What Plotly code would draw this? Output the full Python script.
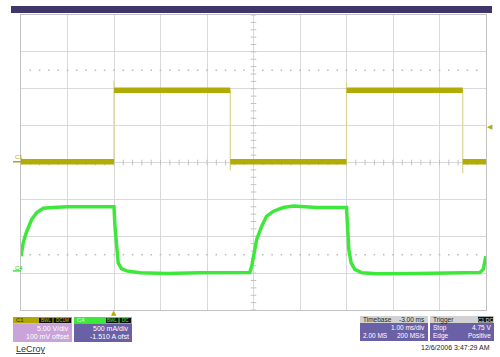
import plotly.graph_objects as go
import numpy as np

# Channel 1 (voltage, V) – time in ms from left edge of screen
c1_time = [0, 2.0, 2.0, 2.0, 4.5, 4.5, 4.5, 7.0, 7.0, 7.0, 9.5, 9.5, 9.5, 10.0]
c1_volts = [0, 0, 11.0, 9.7, 9.7, -1.2, 0, 0, 10.8, 9.7, 9.7, -1.6, 0, 0]

# Channel 4 (current, A)
c4_time = [0, 0.05, 0.12, 0.23, 0.34, 0.48, 0.69, 0.99, 1.5, 2.0,
           2.02, 2.06, 2.09, 2.16, 2.27, 2.56, 3.13, 3.85, 4.56, 4.92,
           4.96, 5.0, 5.07, 5.18, 5.28, 5.43, 5.64, 5.86, 6.36, 7.0,
           7.03, 7.05, 7.10, 7.18, 7.33, 7.65, 8.51, 9.23, 9.87, 9.94, 10.0]
c4_amps = [0.24, 0.43, 0.57, 0.74, 0.83, 0.89, 0.90, 0.91, 0.91, 0.91,
           0.65, 0.29, 0.15, 0.07, 0.04, 0.015, 0.005, 0.015, 0.02, 0.02,
           0.10, 0.24, 0.47, 0.65, 0.78, 0.85, 0.90, 0.92, 0.90, 0.90,
           0.65, 0.33, 0.15, 0.06, 0.015, 0.0, 0.005, 0.015, 0.02, 0.06, 0.24]

# scope settings
c1_vdiv, c1_offset = 5.0, 0.100
c4_adiv, c4_offset = 0.500, -1.510
time_div, n_xdiv, n_ydiv = 1.0, 10, 8
trigger_time, trigger_level = 2.0, 4.75

c1_label = ["5.00 V/div", "100 mV offset"]
c4_label = ["500 mA/div", "-1.510 A ofst"]
tb_label = ["Timebase", "-3.00 ms", "1.00 ms/div", "2.00 MS", "200 MS/s"]
trig_label = ["Trigger", "C1 DC", "Stop", "4.75 V", "Edge", "Positive"]
date_label = "12/6/2006 3:47:29 AM"

# ---------------- colours ----------------
OLIVE = "#b1ab04"
OLIVE_PALE = "#d9d58e"
GREEN = "#3ee83a"
GRID = "#d9d9d9"
FRAME = "#c2c2c2"
PURPLE = "#6a60a6"
LAV = "#c9a3d9"
FONT = "Liberation Sans"

# plot area in pixels
L, R, T, B = 21, 486, 15, 310
W, H = 500, 357
def px(x):
    return (x - L) / (R - L)
def py(y):
    return (B - y) / (B - T)

c1_center = -c1_offset
c1_range = [c1_center - n_ydiv / 2 * c1_vdiv, c1_center + n_ydiv / 2 * c1_vdiv]
c4_center = -c4_offset
c4_range = [c4_center - n_ydiv / 2 * c4_adiv, c4_center + n_ydiv / 2 * c4_adiv]

fig = go.Figure()

# centre-line graticule ticks and dotted lines
sub = np.arange(0, n_xdiv * time_div + 1e-9, time_div / 5)
fig.add_trace(go.Scatter(x=sub, y=[c1_center] * len(sub), mode="markers",
                         marker=dict(symbol="line-ns", size=4, line=dict(width=1, color=FRAME)),
                         hoverinfo="skip"))
vsub = np.arange(c1_range[0], c1_range[1] + 1e-9, c1_vdiv / 5)
fig.add_trace(go.Scatter(x=[n_xdiv / 2 * time_div] * len(vsub), y=vsub, mode="markers",
                         marker=dict(symbol="line-ew", size=4, line=dict(width=1, color=FRAME)),
                         hoverinfo="skip"))
for k in (-2.5, 2.5):
    fig.add_trace(go.Scatter(x=sub[1:-1], y=[c1_center + k * c1_vdiv] * (len(sub) - 2),
                             mode="markers",
                             marker=dict(symbol="square", size=1.6, color="#bdbdbd"),
                             hoverinfo="skip"))

# C1 thin full trace (edges)
fig.add_trace(go.Scatter(x=c1_time, y=c1_volts, mode="lines",
                         line=dict(color=OLIVE_PALE, width=1.2), hoverinfo="skip"))
# C1 thick horizontal segments (noise band)
tx, ty = [], []
for i in range(len(c1_time) - 1):
    if c1_time[i + 1] != c1_time[i]:
        tx += [c1_time[i], c1_time[i + 1], None]
        ty += [c1_volts[i], c1_volts[i + 1], None]
fig.add_trace(go.Scatter(x=tx, y=ty, mode="lines",
                         line=dict(color=OLIVE, width=5.5), hoverinfo="skip"))

# C4 trace
fig.add_trace(go.Scatter(x=c4_time, y=c4_amps, mode="lines", yaxis="y2",
                         line=dict(color=GREEN, width=3.5), hoverinfo="skip"))

shapes = []
ann = []

def rect(x0, x1, y0, y1, color):
    shapes.append(dict(type="rect", xref="paper", yref="paper",
                       x0=px(x0), x1=px(x1), y0=py(y1), y1=py(y0),
                       fillcolor=color, line=dict(width=0), layer="above"))

def text(s, x, y, color, size=7, anchor="left"):
    ann.append(dict(text=s, xref="paper", yref="paper", x=px(x), y=py(y),
                    xanchor=anchor, yanchor="middle", showarrow=False,
                    font=dict(family=FONT, size=size, color=color)))

# top purple bar
rect(11, 492, 6, 13, "#3f3669")

# channel ground markers
shapes.append(dict(type="line", xref="paper", yref="y", x0=px(13), x1=px(21),
                   y0=0, y1=0, line=dict(color=OLIVE, width=1.5)))
text("C1", 13, 156.5, OLIVE, size=6)
shapes.append(dict(type="line", xref="paper", yref="y2", x0=px(13), x1=px(21),
                   y0=0.04, y1=0.04, line=dict(color=GREEN, width=1.5)))
text("C4", 13, 268, "#30c030", size=6)

# trigger markers
ann.append(dict(text="▲", xref="x", yref="paper", x=trigger_time, y=py(313),
                xanchor="center", yanchor="middle", showarrow=False,
                font=dict(family="DejaVu Sans", size=7, color=OLIVE)))
ann.append(dict(text="◀", xref="paper", yref="y", x=px(490), y=trigger_level,
                xanchor="center", yanchor="middle", showarrow=False,
                font=dict(family="DejaVu Sans", size=7, color=OLIVE)))

# C1 box
rect(13, 72, 317, 323.5, "#b3a600")
rect(13, 72, 323.5, 342, LAV)
text("C1", 14, 320.3, "#2a2a00", size=6)
rect(39, 52.5, 318, 323, "#111")
rect(53.5, 71, 318, 323, "#111")
text("BWL", 45.7, 320.5, "#c8c000", size=4.5, anchor="center")
text("DC1M", 62.2, 320.5, "#c8c000", size=4.5, anchor="center")
text(c1_label[0], 71, 328.5, "white", anchor="right")
text(c1_label[1], 71, 336.5, "white", anchor="right")

# C4 box
rect(74, 132, 317, 323.5, GREEN)
rect(74, 132, 323.5, 342, PURPLE)
text("C4", 75, 320.3, "#e8ffe8", size=6)
rect(106, 118.5, 318, 323, "#111")
rect(119.5, 131, 318, 323, "#111")
text("BWL", 112.2, 320.5, GREEN, size=4.5, anchor="center")
text("DC", 125.2, 320.5, GREEN, size=4.5, anchor="center")
text(c4_label[0], 131, 328.5, "white", anchor="right")
text(c4_label[1], 131, 336.5, "white", anchor="right")

# LeCroy
text("<u>LeCroy</u>", 14, 348.5, "#333333", size=9)

# Timebase box
rect(360, 428, 316, 323, "#d2d2d2")
rect(360, 428, 323, 341, PURPLE)
text(tb_label[0], 361, 319.8, "#222", size=6.5)
text(tb_label[1], 427, 319.8, "#222", size=6.5, anchor="right")
text(tb_label[2], 427, 327.5, "white", size=6.5, anchor="right")
text(tb_label[3], 361, 335.5, "white", size=6.5)
text(tb_label[4], 427, 335.5, "white", size=6.5, anchor="right")

# Trigger box
rect(430, 494, 316, 323, "#d2d2d2")
rect(430, 494, 323, 341, PURPLE)
text(trig_label[0], 431, 319.8, "#222", size=6.5)
rect(478, 493, 316.8, 322.3, "#111")
text(trig_label[1], 485.5, 319.6, "#e0e0e0", size=5, anchor="center")
text(trig_label[2], 431, 327.5, "white", size=6.5)
text(trig_label[3], 493, 327.5, "white", size=6.5, anchor="right")
text(trig_label[4], 431, 335.5, "white", size=6.5)
text(trig_label[5], 493, 335.5, "white", size=6.5, anchor="right")

# date
text(date_label, 492, 347.5, "#222", size=7, anchor="right")

fig.update_layout(
    width=W, height=H,
    margin=dict(l=L, r=W - R, t=T, b=H - B),
    paper_bgcolor="white", plot_bgcolor="white",
    showlegend=False,
    shapes=shapes, annotations=ann,
    xaxis=dict(range=[0, n_xdiv * time_div], dtick=time_div, tick0=0,
               showgrid=True, gridcolor=GRID, gridwidth=1,
               showline=True, mirror=True, linecolor=FRAME, linewidth=1,
               zeroline=False, showticklabels=False, ticks=""),
    yaxis=dict(range=c1_range, dtick=c1_vdiv, tick0=c1_center,
               showgrid=True, gridcolor=GRID, gridwidth=1,
               showline=True, mirror=True, linecolor=FRAME, linewidth=1,
               zeroline=False, showticklabels=False, ticks=""),
    yaxis2=dict(range=c4_range, overlaying="y", showgrid=False,
                zeroline=False, showticklabels=False, ticks="", showline=False),
)

fig.write_html("out.html", config={"displayModeBar": False},
               post_script="document.body.style.margin='0';document.body.style.overflow='hidden';")
